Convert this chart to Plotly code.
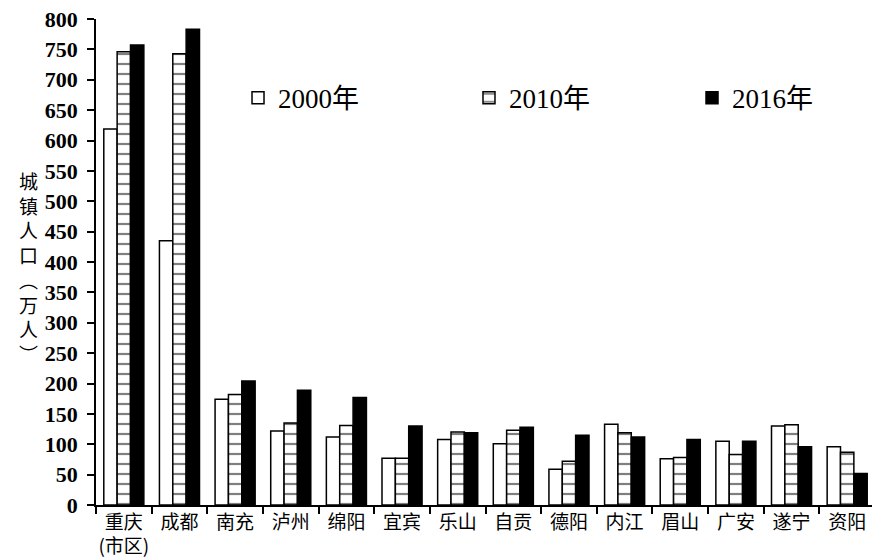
import plotly.graph_objects as go

cities = ["重庆<br>(市区)", "成都", "南充", "泸州", "绵阳", "宜宾", "乐山", "自贡",
          "德阳", "内江", "眉山", "广安", "遂宁", "资阳"]
y2000 = [619, 435, 174, 122, 112, 77, 108, 101, 59, 133, 76, 105, 130, 96]
y2010 = [746, 743, 182, 135, 131, 77, 120, 123, 72, 119, 78, 83, 132, 87]
y2016 = [757, 783, 204, 189, 177, 130, 119, 128, 115, 112, 108, 105, 96, 52]
y_ticks = list(range(0, 801, 50))

serif = "Liberation Serif, Times New Roman, Noto Sans CJK SC, serif"
cjk = "Noto Sans CJK SC, Liberation Serif, serif"

fig = go.Figure()
fig.add_trace(go.Bar(x=cities, y=y2000, name="2000年", legend="legend",
                     marker=dict(color="white", line=dict(color="black", width=1.5))))
fig.add_trace(go.Bar(x=cities, y=y2010, name="2010年", legend="legend2",
                     marker=dict(color="white", line=dict(color="black", width=1.5),
                                 pattern=dict(shape="-", size=10, solidity=0.22,
                                              fgcolor="black", bgcolor="white"))))
fig.add_trace(go.Bar(x=cities, y=y2016, name="2016年", legend="legend3",
                     marker=dict(color="black", line=dict(color="black", width=1.5))))

leg_common = dict(yanchor="middle", xanchor="left", y=0.837,
                  font=dict(family=serif, size=27, color="black"),
                  bgcolor="rgba(0,0,0,0)")

fig.update_layout(
    width=872, height=549,
    margin=dict(l=88, r=5, t=11, b=52, autoexpand=False),
    paper_bgcolor="white", plot_bgcolor="white",
    barmode="group", bargap=0.28, bargroupgap=0,
    showlegend=True,
    legend=dict(x=0.1823, **leg_common),
    legend2=dict(x=0.4788, **leg_common),
    legend3=dict(x=0.7651, **leg_common),
    xaxis=dict(type="category", showline=True, linecolor="black", linewidth=1.5,
               ticks="outside", ticklen=7, tickwidth=1.5, tickcolor="black",
               tickson="boundaries", showgrid=False, tickangle=0, automargin=False,
               ticklabelstandoff=-1, ticklabeloverflow="allow",
               tickfont=dict(family=cjk, size=19, color="black")),
    yaxis=dict(range=[0, 800], tickvals=y_ticks, showline=True, linecolor="black",
               linewidth=1.5, ticks="outside", ticklen=7, tickwidth=1.5,
               tickcolor="black", showgrid=False, zeroline=False, automargin=False,
               ticklabelstandoff=5, ticklabeloverflow="allow",
               tickfont=dict(family=serif, size=22, color="black", weight="bold")),
    annotations=[dict(text="城<br>镇<br>人<br>口<br>︵<br>万<br>人<br>︶",
                      xref="paper", yref="paper", x=-0.087, y=0.49,
                      xanchor="center", yanchor="middle", showarrow=False,
                      font=dict(family=cjk, size=19, color="black"))],
)

fig.write_html("out.html")
